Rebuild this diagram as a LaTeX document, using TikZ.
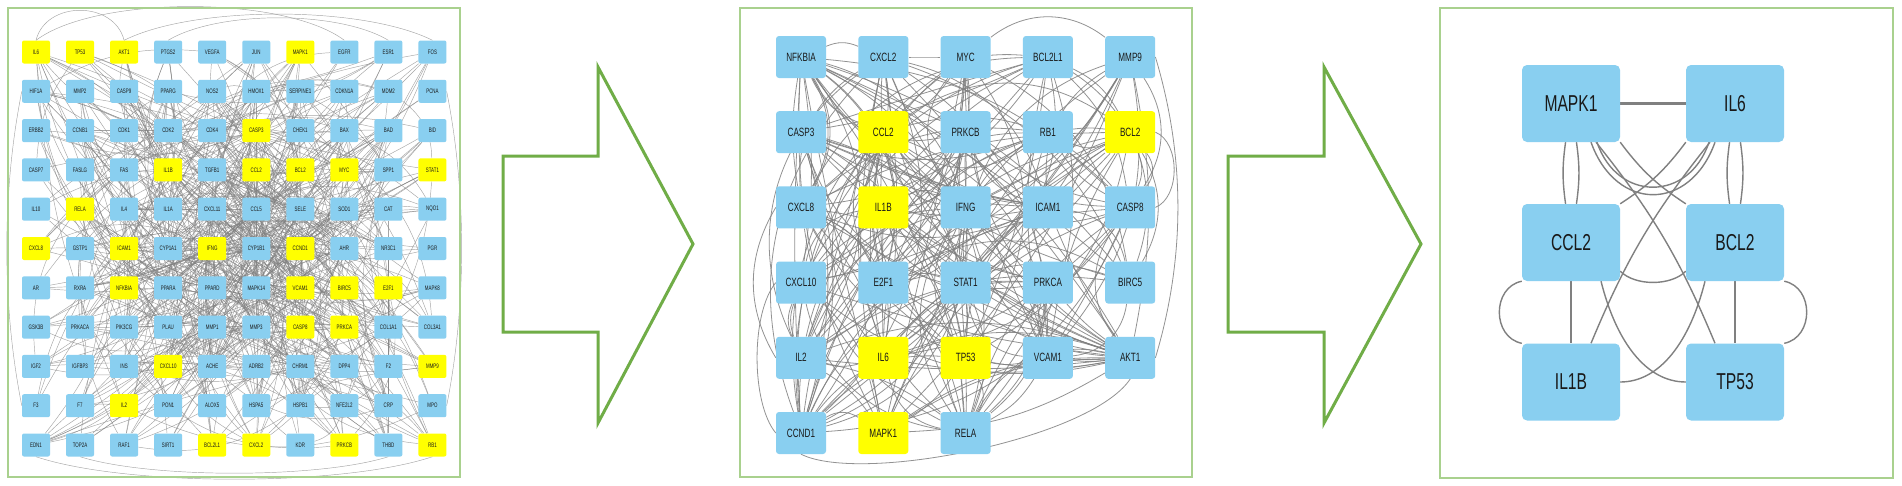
\documentclass[tikz,border=0pt]{standalone}
\usepackage{fontspec}
\newfontfamily\genefont[FakeStretch=0.68]{Liberation Sans}
\usetikzlibrary{backgrounds}

\definecolor{nb}{RGB}{137,207,240}
\definecolor{ny}{RGB}{255,255,0}
\definecolor{framegreen}{RGB}{169,209,142}
\definecolor{arrowgreen}{RGB}{112,173,71}
\definecolor{edgegray}{RGB}{128,128,128}

\tikzset{
	gene/.style={rectangle, inner sep=0pt, text=black!90},
	lnode/.style={gene, minimum width=28, minimum height=23, rounded corners=2, font=\genefont\fontsize{6.5}{7}\selectfont},
	mnode/.style={gene, minimum width=50, minimum height=42, rounded corners=3, font=\genefont\fontsize{12}{12}\selectfont},
	rnode/.style={gene, fill=nb, minimum width=98, minimum height=77, rounded corners=5, font=\genefont\fontsize{23}{23}\selectfont},
	ledge/.style={edgegray, line width=0.45pt, opacity=0.7},
	medge/.style={edgegray, line width=0.8pt, opacity=0.85},
	redge/.style={edgegray, line width=1.4pt},
	panel/.style={draw=framegreen, line width=2.5pt},
	bigarrow/.style={draw=arrowgreen, fill=white, line width=3pt, line join=miter}
}

\begin{document}
\begin{tikzpicture}
		[
		x=1pt, y=-1pt
		%Pixelraster, y nach unten
		]
		
		\useasboundingbox (0,0) rectangle (1902,485);
		
		%Rahmen
		\draw[panel] (8,8) rectangle (460,477);
		\draw[panel] (740,8) rectangle (1192,477);
		\draw[panel] (1440,8) rectangle (1893,478);
		
		%Pfeile
		\draw[bigarrow] (503,156) -- (598,156) -- (598,67) -- (693,244) -- (598,423) -- (598,332) -- (503,332) -- cycle;
		\draw[bigarrow] (1228,156) -- (1324,156) -- (1324,67) -- (1421,244) -- (1324,423) -- (1324,332) -- (1228,332) -- cycle;
		
		%linkes Netz, 10 x 11
		\foreach [count=\i from 0] \g/\k in {
			IL6/ny, TP53/ny, AKT1/ny, PTGS2/nb, VEGFA/nb, JUN/nb, MAPK1/ny, EGFR/nb, ESR1/nb, FOS/nb,
			HIF1A/nb, MMP2/nb, CASP9/nb, PPARG/nb, NOS2/nb, HMOX1/nb, SERPINE1/nb, CDKN1A/nb, MDM2/nb, PCNA/nb,
			ERBB2/nb, CCNB1/nb, CDK1/nb, CDK2/nb, CDK4/nb, CASP3/ny, CHEK1/nb, BAX/nb, BAD/nb, BID/nb,
			CASP7/nb, FASLG/nb, FAS/nb, IL1B/ny, TGFB1/nb, CCL2/ny, BCL2/ny, MYC/ny, SPP1/nb, STAT1/ny,
			IL10/nb, RELA/ny, IL4/nb, IL1A/nb, CXCL11/nb, CCL5/nb, SELE/nb, SOD1/nb, CAT/nb, NQO1/nb,
			CXCL8/ny, GSTP1/nb, ICAM1/ny, CYP1A1/nb, IFNG/ny, CYP1B1/nb, CCND1/ny, AHR/nb, NR3C1/nb, PGR/nb,
			AR/nb, RXRA/nb, NFKBIA/ny, PPARA/nb, PPARD/nb, MAPK14/nb, VCAM1/ny, BIRC5/ny, E2F1/ny, MAPK8/nb,
			GSK3B/nb, PRKACA/nb, PIK3CG/nb, PLAU/nb, MMP1/nb, MMP3/nb, CASP8/ny, PRKCA/ny, COL1A1/nb, COL3A1/nb,
			IGF2/nb, IGFBP3/nb, INS/nb, CXCL10/ny, ACHE/nb, ADRB2/nb, CHRM1/nb, DPP4/nb, F2/nb, MMP9/ny,
			F3/nb, F7/nb, IL2/ny, PON1/nb, ALOX5/nb, HSPA5/nb, HSPB1/nb, NFE2L2/nb, CRP/nb, MPO/nb,
			EDN1/nb, TOP2A/nb, RAF1/nb, SIRT1/nb, BCL2L1/ny, CXCL2/ny, KDR/nb, PRKCB/ny, THBD/nb, RB1/ny}
		{
			\pgfmathtruncatemacro\r{\i/10}
			\pgfmathtruncatemacro\c{mod(\i,10)}
			\node[lnode, fill=\k] (L\i) at (36+44.05*\c, 52+39.3*\r) {\g};
		}
		
		%mittleres Netz
		\foreach [count=\i from 0] \g/\k in {
			NFKBIA/nb, CXCL2/nb, MYC/nb, BCL2L1/nb, MMP9/nb,
			CASP3/nb, CCL2/ny, PRKCB/nb, RB1/nb, BCL2/ny,
			CXCL8/nb, IL1B/ny, IFNG/nb, ICAM1/nb, CASP8/nb,
			CXCL10/nb, E2F1/nb, STAT1/nb, PRKCA/nb, BIRC5/nb,
			IL2/nb, IL6/ny, TP53/ny, VCAM1/nb, AKT1/nb,
			CCND1/nb, MAPK1/ny, RELA/nb}
		{
			\pgfmathtruncatemacro\r{\i/5}
			\pgfmathtruncatemacro\c{mod(\i,5)}
			\node[mnode, fill=\k] (M\i) at (801+82.3*\c, 57+75.2*\r) {\g};
		}
		
		%rechtes Netz
		\node[rnode] (mapk) at (1571,103.5) {MAPK1};
		\node[rnode] (il6) at (1735,103.5) {IL6};
		\node[rnode] (ccl) at (1571,242.5) {CCL2};
		\node[rnode] (bcl) at (1735,242.5) {BCL2};
		\node[rnode] (ilb) at (1571,382) {IL1B};
		\node[rnode] (tp) at (1735,382) {TP53};
		
		\begin{pgfonlayer}{background}
		\fill[white] (0,0) rectangle (1902,485);
		
		%Kanten links (Zufall, Mitte dichter)
		\pgfmathsetseed{17}
		\foreach \e in {1,...,650}
		{
			\pgfmathtruncatemacro\na{round((rnd+rnd)*5)*10+round((rnd+rnd)*4.5)}
			\pgfmathtruncatemacro\nb{random(0,109)}
			\pgfmathtruncatemacro\bd{random(-30,30)}
			\ifnum\na=\nb\relax\else
			\draw[ledge] (L\na) to[bend left=\bd] (L\nb);
			\fi
		}
		%Boegen aussen
		\draw[ledge] (L0.north) .. controls +(60,-45) and +(-60,-45) .. (L7.north);
		\draw[ledge] (L2.north) .. controls +(70,-35) and +(-70,-35) .. (L9.north);
		\draw[ledge] (L0.north) .. controls +(10,-40) and +(-10,-40) .. (L2.north);
		\draw[ledge] (L3.north) .. controls +(50,-30) and +(-50,-30) .. (L8.north);
		\draw[ledge] (L100.south) .. controls +(90,30) and +(-90,30) .. (L109.south);
		\draw[ledge] (L101.south) .. controls +(70,22) and +(-70,22) .. (L108.south);
		\draw[ledge] (L10.west) .. controls +(-20,100) and +(-20,-100) .. (L90.west);
		\draw[ledge] (L19.east) .. controls +(20,100) and +(20,-100) .. (L99.east);
		
		%Kanten Mitte
		\pgfmathsetseed{5}
		\foreach \e in {1,...,250}
		{
			\pgfmathtruncatemacro\na{random(0,27)}
			\pgfmathtruncatemacro\nb{random(0,27)}
			\pgfmathtruncatemacro\bd{random(-40,40)}
			\ifnum\na=\nb\relax\else
			\draw[medge] (M\na) to[bend left=\bd] (M\nb);
			\fi
		}
		\foreach \j in {5,10,13,15,16,17,18,20,23}
		\draw[medge] (M24) to[bend left=6] (M\j);
		\draw[medge] (M10.west) .. controls +(-30,50) and +(-30,-50) .. (M20.west);
		\draw[medge] (M15.west) .. controls +(-25,30) and +(-25,-30) .. (M25.west);
		\draw[medge] (M25.south) .. controls +(60,30) and +(-40,60) .. (M24.south);
		\draw[medge] (M9.east) .. controls +(25,10) and +(25,-10) .. (M14.east);
		\draw[medge] (M4.east) .. controls +(30,100) and +(30,-100) .. (M24.east);
		
		%Kanten rechts
		\draw[redge, line width=2.4pt] (mapk) -- (il6);
		\draw[redge] (mapk) to[bend left=8] (ccl);
		\draw[redge] (mapk) to[bend right=8] (ccl);
		\draw[redge] (il6) to[bend left=8] (bcl);
		\draw[redge] (il6) to[bend right=8] (bcl);
		\draw[redge] ([xshift=20pt]mapk.south) .. controls +(25,70) and +(-25,70) .. ([xshift=-20pt]il6.south);
		\draw[redge] ([xshift=26pt]mapk.south) .. controls +(20,60) and +(-20,60) .. ([xshift=-26pt]il6.south);
		\draw[redge] (mapk.south east) to[bend right=10] (bcl.north west);
		\draw[redge] (il6.south west) to[bend left=10] (ccl.north east);
		\draw[redge] ([xshift=25pt]mapk.south) to[bend left=8] ([xshift=-20pt]tp.north);
		\draw[redge] ([xshift=-25pt]il6.south) to[bend right=8] ([xshift=20pt]ilb.north);
		\draw[redge] (ccl) -- (ilb);
		\draw[redge] (bcl) -- (tp);
		\draw[redge] (ccl.south west) .. controls +(-30,6) and +(-30,-6) .. (ilb.north west);
		\draw[redge] (bcl.south east) .. controls +(30,6) and +(30,-6) .. (tp.north east);
		\draw[redge] ([yshift=10pt]ccl.south east) .. controls +(15,15) and +(-15,15) .. ([yshift=10pt]bcl.south west);
		\draw[redge] ([xshift=30pt]ccl.south) .. controls +(15,60) and +(-40,0) .. (tp.west);
		\draw[redge] (ilb.east) .. controls +(40,0) and +(-15,60) .. ([xshift=-30pt]bcl.south);
		\end{pgfonlayer}
		
\end{tikzpicture}
\end{document}
